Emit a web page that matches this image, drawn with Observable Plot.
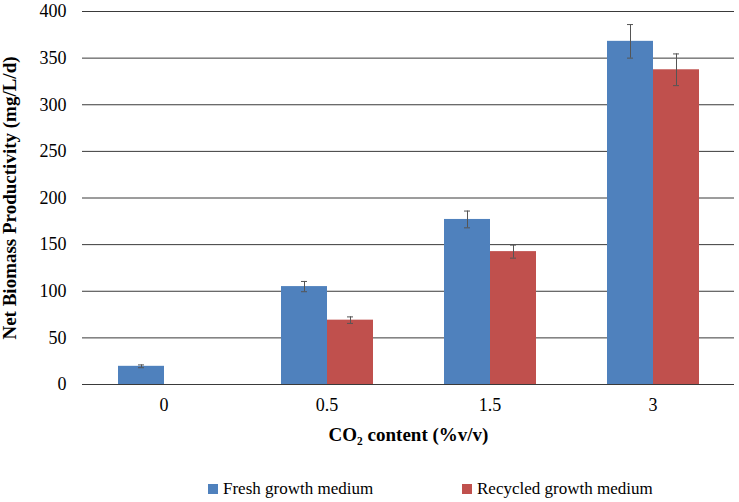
<!DOCTYPE html>
<html>
<head>
<meta charset="utf-8">
<script src="https://cdn.jsdelivr.net/npm/d3@7"></script>
<script src="https://cdn.jsdelivr.net/npm/@observablehq/plot@0.6"></script>
<style>
  body { margin: 0; background: #fff; font-family: "Liberation Serif", "Times New Roman", serif; }
  #chart svg text { font-family: "Liberation Serif", "Times New Roman", serif !important; }
  #chart svg [aria-label$="axis label"] text, #chart svg [aria-label$="axis label"] { font-weight: bold; }
  #chart svg [aria-label="y-axis label"] text, #chart svg [aria-label="y-axis label"] { font-size: 19px; }
  #chart svg [aria-label="fx-axis label"] text, #chart svg [aria-label="fx-axis label"] { font-size: 19px; }
  #legend { position: relative; height: 40px; font-size: 17px; color: #000; font-family: "Liberation Serif", "Times New Roman", serif; }
  .item { position: absolute; top: 17px; display: flex; align-items: center; }
  .sw { width: 10px; height: 10px; margin-right: 5px; }
</style>
</head>
<body>
<div id="chart"></div>
<div id="legend"></div>
<script>
const categories = ["0", "0.5", "1.5", "3"];
const series = ["Fresh growth medium", "Recycled growth medium"];
const colors = ["#4F81BD", "#C0504D"];
const fresh = [19.5, 105, 177, 368];
const freshErr = [1.5, 5.5, 9, 18];
const recycled = [null, 69, 142.5, 337.5];
const recycledErr = [null, 3.5, 7, 17];
const yTicks = [0, 50, 100, 150, 200, 250, 300, 350, 400];

const rows = [];
categories.forEach((c, i) => {
  if (fresh[i] != null) rows.push({cat: c, series: series[0], value: fresh[i], err: freshErr[i]});
  if (recycled[i] != null) rows.push({cat: c, series: series[1], value: recycled[i], err: recycledErr[i]});
});
const lo = d => d.value - d.err;
const hi = d => d.value + d.err;

const chart = Plot.plot({
  width: 739,
  height: 462,
  marginTop: 11,
  marginBottom: 78,
  marginLeft: 82,
  marginRight: 5,
  style: {fontFamily: "'Liberation Serif', serif", fontSize: "18px", color: "#000", background: "#fff", overflow: "visible"},
  fx: {domain: categories, padding: 0, axis: "bottom", label: "CO₂ content (%v/v)", labelAnchor: "center", labelOffset: 56, tickSize: 0, tickPadding: 14},
  x: {domain: series, paddingInner: 0, paddingOuter: 0.77, axis: null},
  y: {domain: [0, 400], label: null},
  color: {domain: series, range: colors},
  marks: [
    Plot.ruleY(yTicks, {stroke: "#3a3a3a", strokeWidth: 1}),
    Plot.barY(rows, {fx: "cat", x: "series", y: "value", fill: "series"}),
    Plot.ruleX(rows, {fx: "cat", x: "series", y1: lo, y2: hi, stroke: "#555"}),
    Plot.tickY(rows, {fx: "cat", x: "series", y: lo, stroke: "#555", insetLeft: 20, insetRight: 20}),
    Plot.tickY(rows, {fx: "cat", x: "series", y: hi, stroke: "#555", insetLeft: 20, insetRight: 20}),
    Plot.axisY({ticks: yTicks, tickSize: 0, tickPadding: 16, line: true, stroke: "#555", fill: "#000",
      label: "Net Biomass Productivity (mg/L/d)", labelArrow: "none", labelAnchor: "center", labelOffset: 80}),
    Plot.axisY({anchor: "right", ticks: [], line: true, stroke: "#555", label: null})
  ]
});
document.getElementById("chart").appendChild(chart);

const legend = document.getElementById("legend");
const lefts = [208, 462];
series.forEach((s, i) => {
  const it = document.createElement("div");
  it.className = "item";
  it.style.left = lefts[i] + "px";
  const sw = document.createElement("span");
  sw.className = "sw";
  sw.style.background = colors[i];
  const tx = document.createElement("span");
  tx.textContent = s;
  it.appendChild(sw);
  it.appendChild(tx);
  legend.appendChild(it);
});
</script>
</body>
</html>
